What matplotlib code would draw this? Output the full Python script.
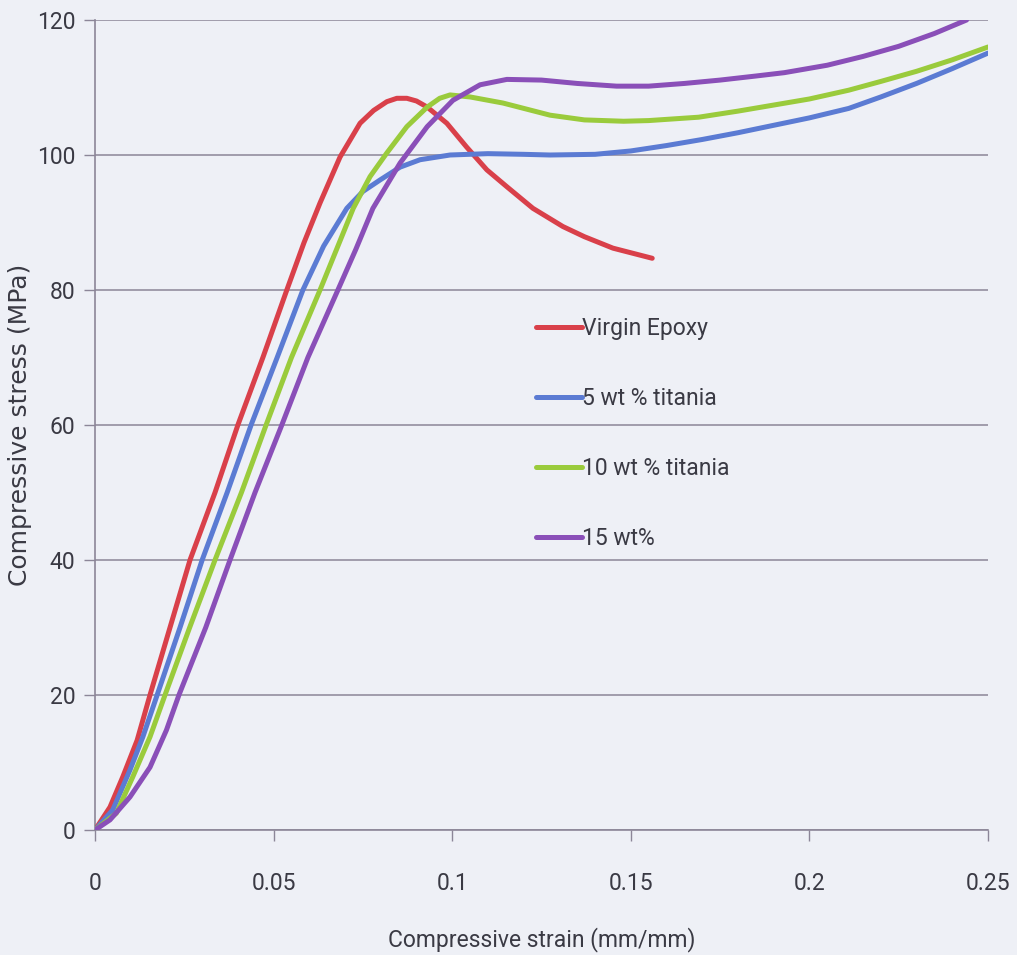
import matplotlib
matplotlib.use("Agg")
import matplotlib.pyplot as plt

# ── Data ──────────────────────────────────────────────────────────────────
epoxy_strain = [0, 0.0042, 0.0078, 0.0118, 0.0154, 0.021, 0.0266, 0.0336,
                0.040, 0.047, 0.0537, 0.0585, 0.063, 0.0686, 0.0742, 0.078,
                0.0817, 0.0845, 0.0873, 0.090, 0.093, 0.0985, 0.104, 0.1097,
                0.1153, 0.1226, 0.131, 0.137, 0.145, 0.156]
epoxy_stress = [0, 3.4, 7.9, 13.3, 20, 30, 40, 50,
                60, 70, 80, 87, 92.9, 99.7, 104.7, 106.6,
                107.9, 108.4, 108.4, 108.0, 107.1, 104.7, 101.2, 97.8,
                95.3, 92.1, 89.4, 87.9, 86.2, 84.7]

ti5_strain = [0, 0.005, 0.0098, 0.0134, 0.0174, 0.0238, 0.030, 0.037, 0.0437,
              0.051, 0.0582, 0.064, 0.0705, 0.075, 0.0798, 0.0854, 0.091,
              0.0994, 0.11, 0.12, 0.1274, 0.14, 0.15, 0.16, 0.17, 0.18, 0.19,
              0.2, 0.211, 0.22, 0.23, 0.24, 0.25]
ti5_stress = [0, 3, 8.9, 13.8, 20, 30, 40, 50, 60,
              70, 80, 86.5, 92.1, 94.6, 96.3, 98.2, 99.3,
              100, 100.2, 100.1, 100, 100.1, 100.6, 101.4, 102.3, 103.3, 104.4,
              105.5, 106.9, 108.6, 110.6, 112.8, 115.1]

ti10_strain = [0, 0.006, 0.0106, 0.0154, 0.0196, 0.0265, 0.0336, 0.041, 0.0479,
               0.055, 0.063, 0.068, 0.0723, 0.077, 0.0817, 0.0873, 0.093,
               0.0965, 0.0994, 0.105, 0.1142, 0.1274, 0.137, 0.148, 0.155,
               0.169, 0.18, 0.19, 0.2, 0.211, 0.22, 0.23, 0.24, 0.25]
ti10_stress = [0, 2.5, 7.9, 13.8, 20, 30, 40, 50, 60,
               70, 80, 86.5, 92.1, 96.8, 100.3, 104.2, 107.1,
               108.4, 108.9, 108.6, 107.7, 105.9, 105.2, 105, 105.1,
               105.6, 106.5, 107.4, 108.3, 109.6, 110.9, 112.4, 114.1, 116]

ti15_strain = [0, 0.0042, 0.0098, 0.0154, 0.020, 0.0235, 0.031, 0.0378, 0.0448,
               0.0523, 0.0596, 0.068, 0.073, 0.0778, 0.0854, 0.093, 0.1002,
               0.1078, 0.1153, 0.125, 0.135, 0.146, 0.155, 0.165, 0.175, 0.185,
               0.193, 0.205, 0.215, 0.225, 0.235, 0.244]
ti15_stress = [0, 1.5, 4.9, 9.3, 14.8, 20, 30, 40, 50,
               60, 70, 80, 86, 92.1, 98.8, 104.2, 108.1,
               110.4, 111.2, 111.1, 110.6, 110.2, 110.2, 110.6, 111.1, 111.7,
               112.2, 113.3, 114.6, 116.1, 118, 120]

labels = ["Virgin Epoxy", "5 wt % titania", "10 wt % titania", "15 wt%"]
x_ticks = [0, 0.05, 0.1, 0.15, 0.2, 0.25]
x_ticklabels = ["0", "0.05", "0.1", "0.15", "0.2", "0.25"]
y_ticks = [0, 20, 40, 60, 80, 100, 120]

# ── Style ─────────────────────────────────────────────────────────────────
BG = "#eef0f6"
GRID = "#8c8698"
TXT = "#3a3a44"
COLORS = ["#d9404a", "#5b7bd3", "#9acb3c", "#8a4fb8"]
NARROW = ["Roboto", "DejaVu Sans"]

fig = plt.figure(figsize=(10.17, 9.55), dpi=100, facecolor=BG)
ax = fig.add_axes([95 / 1017, 1 - 830 / 955, 893 / 1017, 810 / 955])
ax.set_facecolor(BG)

series = [(epoxy_strain, epoxy_stress), (ti5_strain, ti5_stress),
          (ti10_strain, ti10_stress), (ti15_strain, ti15_stress)]
for (xs, ys), col, lab in zip(series, COLORS, labels):
    ax.plot(xs, ys, color=col, lw=3.6, label=lab, solid_capstyle="round",
            solid_joinstyle="round", zorder=3)

ax.set_xlim(0, 0.25)
ax.set_ylim(0, 120)
ax.set_xticks(x_ticks)
ax.set_xticklabels(x_ticklabels, family=NARROW, fontsize=16.5, color=TXT)
ax.set_yticks(y_ticks)
ax.set_yticklabels([str(v) for v in y_ticks], family=NARROW, fontsize=16.5,
                   color=TXT)
ax.tick_params(axis="both", length=8, width=1, color=GRID, direction="out")
ax.tick_params(axis="x", pad=22)
ax.tick_params(axis="y", pad=6)

ax.grid(axis="y", color=GRID, lw=1.1, zorder=1)
ax.set_axisbelow(True)
for side in ("top", "right"):
    ax.spines[side].set_visible(False)
for side in ("left", "bottom"):
    ax.spines[side].set_color(GRID)
    ax.spines[side].set_linewidth(1.2)

ax.set_xlabel("Compressive strain (mm/mm)", family=NARROW, fontsize=16.5,
              color=TXT)
ax.xaxis.set_label_coords(0.5, -0.12)
ax.set_ylabel("Compressive stress (MPa)", family="DejaVu Sans", fontsize=18,
              color=TXT)
ax.yaxis.set_label_coords(-0.071, 0.5)

leg = ax.legend(loc="upper left", bbox_to_anchor=(0.471, 0.659), frameon=False,
                handlelength=2.0, handletextpad=0.0, labelspacing=2.05,
                prop={"family": NARROW, "size": 16.5})
for t in leg.get_texts():
    t.set_color(TXT)

fig.savefig("out.png", dpi=100, facecolor=BG)
